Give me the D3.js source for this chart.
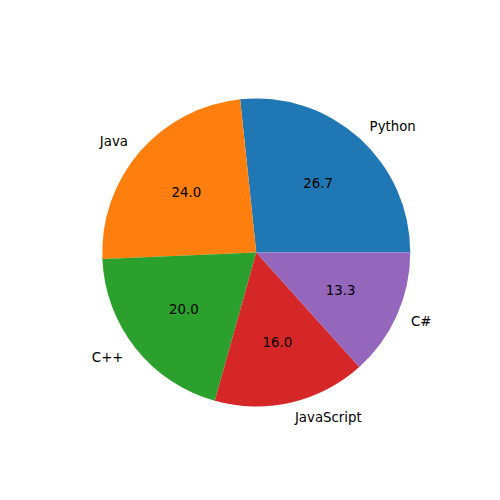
<!DOCTYPE html>
<html>
<head>
<meta charset="utf-8">
<script src="https://cdn.jsdelivr.net/npm/d3@7"></script>
<style>
  html, body { margin: 0; padding: 0; background: #ffffff; }
  svg { display: block; }
  text { font-family: "DejaVu Sans", sans-serif; font-size: 13.33px; fill: #000; }
</style>
</head>
<body>
<svg id="chart" width="500" height="500"></svg>
<script>
const categories = ["Python", "Java", "C++", "JavaScript", "C#"];
const values = [100, 90, 75, 60, 50];
const colors = ["#1f77b4", "#ff7f0e", "#2ca02c", "#d62728", "#9467bd"];

const W = 500, H = 500;
const svg = d3.select("#chart");
svg.append("rect").attr("width", W).attr("height", H).attr("fill", "#fff");

// Axes box as in matplotlib default: [0.125, 0.11, 0.775, 0.77]
const axLeft = 0.125 * W, axWidth = 0.775 * W;
const axTop = (1 - 0.88) * H, axHeight = 0.77 * H;
const unit = Math.min(axWidth, axHeight) / 2.5;
const cx = axLeft + axWidth / 2, cy = axTop + axHeight / 2;
const R = unit;

const total = d3.sum(values);
const pie = d3.pie().sort(null).value(d => d)
  .startAngle(Math.PI / 2).endAngle(Math.PI / 2 - 2 * Math.PI);
const arcs = pie(values);
const arc = d3.arc().innerRadius(0).outerRadius(R);

const g = svg.append("g").attr("transform", `translate(${cx},${cy})`);

g.selectAll("path.wedge").data(arcs).enter().append("path")
  .attr("class", "wedge")
  .attr("d", arc)
  .attr("fill", (d, i) => colors[i]);

// d3 angle a (clockwise from 12 o'clock) -> screen x = sin(a), y = -cos(a)
function pos(d, r) {
  const a = (d.startAngle + d.endAngle) / 2;
  return [r * Math.sin(a), -r * Math.cos(a)];
}

g.selectAll("text.label").data(arcs).enter().append("text")
  .attr("class", "label")
  .attr("x", d => pos(d, 1.1 * R)[0])
  .attr("y", d => pos(d, 1.1 * R)[1])
  .attr("text-anchor", d => pos(d, 1)[0] > 0 ? "start" : "end")
  .attr("dominant-baseline", "central")
  .text((d, i) => categories[i]);

g.selectAll("text.pct").data(arcs).enter().append("text")
  .attr("class", "pct")
  .attr("x", d => pos(d, 0.6 * R)[0])
  .attr("y", d => pos(d, 0.6 * R)[1])
  .attr("text-anchor", "middle")
  .attr("dominant-baseline", "central")
  .text(d => (100 * d.value / total).toFixed(1));
</script>
</body>
</html>
